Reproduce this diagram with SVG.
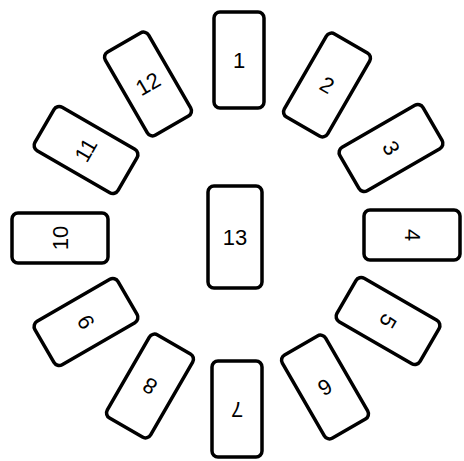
<svg xmlns="http://www.w3.org/2000/svg" width="464" height="461" viewBox="0 0 464 461">
<style>
.card{fill:#fff;stroke:#000;stroke-width:3.5;stroke-linejoin:round}
.lbl{font-family:"Liberation Sans",Arial,sans-serif;font-size:22px;fill:#000;text-anchor:middle;dominant-baseline:central}
</style>
<rect width="464" height="461" fill="#fff"/>
<defs><rect id="c" class="card" x="-25" y="-48" width="50" height="96" rx="6"/></defs>
<g id="connectors"/>
<g id="card1" transform="translate(239,60) rotate(0)"><use href="#c"/><text class="lbl">1</text></g>
<g id="card2" transform="translate(327,85) rotate(30)"><use href="#c"/><text class="lbl">2</text></g>
<g id="card3" transform="translate(391,148) rotate(60)"><use href="#c"/><text class="lbl">3</text></g>
<g id="card4" transform="translate(412,235) rotate(90)"><use href="#c"/><text class="lbl">4</text></g>
<g id="card5" transform="translate(388,321) rotate(120)"><use href="#c"/><text class="lbl">5</text></g>
<g id="card6" transform="translate(325,387) rotate(150)"><use href="#c"/><text class="lbl">6</text></g>
<g id="card7" transform="translate(237,409) rotate(180)"><use href="#c"/><text class="lbl">7</text></g>
<g id="card8" transform="translate(150,386) rotate(210)"><use href="#c"/><text class="lbl">8</text></g>
<g id="card9" transform="translate(86,322) rotate(240)"><use href="#c"/><text class="lbl">9</text></g>
<g id="card10" transform="translate(60,238) rotate(270)"><use href="#c"/><text class="lbl">10</text></g>
<g id="card11" transform="translate(86,150) rotate(300)"><use href="#c"/><text class="lbl">11</text></g>
<g id="card12" transform="translate(148,84) rotate(330)"><use href="#c"/><text class="lbl">12</text></g>
<g id="card13" transform="translate(235,237)"><rect class="card" x="-27" y="-51" width="54" height="102" rx="6"/><text class="lbl">13</text></g>
</svg>
